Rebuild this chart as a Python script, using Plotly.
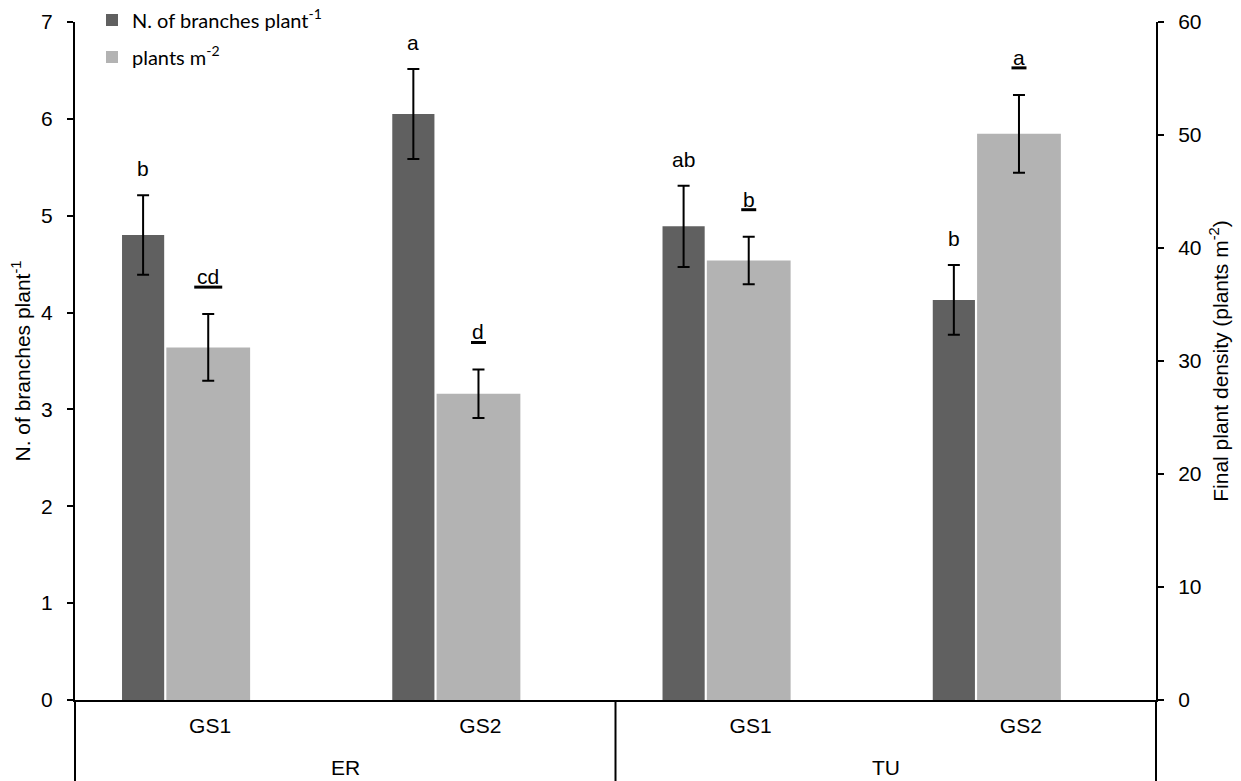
import plotly.graph_objects as go

# ---- data ----
sites = ["ER", "ER", "TU", "TU"]
seasons = ["GS1", "GS2", "GS1", "GS2"]
branches = [4.80, 6.05, 4.89, 4.13]
branches_err = [0.41, 0.465, 0.42, 0.36]
density = [31.2, 27.1, 38.9, 50.1]
density_err = [2.95, 2.15, 2.1, 3.45]
branches_letters = ["b", "a", "ab", "b"]
density_letters = ["cd", "d", "b", "a"]
left_ticks = [0, 1, 2, 3, 4, 5, 6, 7]
right_ticks = [0, 10, 20, 30, 40, 50, 60]

# ---- style / layout constants ----
W, H = 1241, 781
ML, MR, MT, MB = 75, 85, 22, 81
DARK, LIGHT = "#606060", "#b3b3b3"
ARIAL = "Liberation Sans, Arial, sans-serif"
FS = 21
D_OFF, D_W = -0.326, 0.156
L_OFF, L_W = -0.162, 0.31

xpos = list(range(len(seasons)))
plot_h = H - MT - MB

fig = go.Figure()
fig.add_trace(go.Bar(
    x=xpos, y=branches, name="N. of branches plant<sup>-1</sup>",
    offset=D_OFF, width=D_W, marker=dict(color=DARK, line=dict(width=0)),
    error_y=dict(type="data", array=branches_err, color="black", thickness=2, width=6),
    legend="legend", showlegend=True,
))
fig.add_trace(go.Bar(
    x=xpos, y=density, name="plants m<sup>-2</sup>", yaxis="y2",
    offset=L_OFF, width=L_W, marker=dict(color=LIGHT, line=dict(width=0)),
    error_y=dict(type="data", array=density_err, color="black", thickness=2, width=6),
    legend="legend2", showlegend=True,
))

annotations = []
shapes = []
for i in xpos:
    xc = i + D_OFF + D_W / 2
    annotations.append(dict(
        x=xc, y=branches[i] + branches_err[i], xref="x", yref="y",
        text=branches_letters[i], showarrow=False, yanchor="bottom", yshift=13,
        font=dict(family=ARIAL, size=FS, color="black")))
    xl = i + L_OFF + L_W / 2
    top = density[i] + density_err[i]
    annotations.append(dict(
        x=xl, y=top, xref="x", yref="y2",
        text=density_letters[i], showarrow=False, yanchor="bottom", yshift=24,
        font=dict(family=ARIAL, size=FS, color="black")))
    hw = 6.5 * len(density_letters[i]) + 1
    shapes.append(dict(
        type="line", xref="x", yref="y2", xsizemode="pixel", ysizemode="pixel",
        xanchor=xl, yanchor=top, x0=-hw, x1=hw, y0=27, y1=27,
        line=dict(color="black", width=3)))

# group labels
for grp, xc in (("ER", 0.5), ("TU", 2.5)):
    annotations.append(dict(
        x=xc, y=-67 / plot_h, xref="x", yref="paper", text=grp, showarrow=False,
        yanchor="middle", font=dict(family=ARIAL, size=FS, color="black")))

# vertical divider lines below the axis
for xp in (0, 0.5, 1):
    shapes.append(dict(
        type="line", xref="paper", yref="paper", x0=xp, x1=xp, y0=0, y1=-MB / plot_h,
        line=dict(color="black", width=2)))

axis_common = dict(
    showgrid=False, zeroline=False, showline=True, linecolor="black", linewidth=2,
    ticks="outside", ticklen=6, tickwidth=2, tickcolor="black",
    tickfont=dict(family=ARIAL, size=FS, color="black"), ticklabelstandoff=10,
)

legend_font = dict(family="Lato, sans-serif", size=20, color="black")
fig.update_layout(
    width=W, height=H,
    margin=dict(l=ML, r=MR, t=MT, b=MB, autoexpand=False),
    paper_bgcolor="white", plot_bgcolor="white",
    barmode="overlay",
    showlegend=True,
    xaxis=dict(
        range=[-0.5, 3.5], tickvals=xpos, ticktext=seasons, showgrid=False,
        zeroline=False, showline=True, linecolor="black", linewidth=2, ticks="",
        tickfont=dict(family=ARIAL, size=FS, color="black"), ticklabelstandoff=6,
        fixedrange=True,
    ),
    yaxis=dict(
        range=[0, 7], tickvals=left_ticks,
        title=dict(text="N. of branches plant<sup>-1</sup>", standoff=5,
                   font=dict(family=ARIAL, size=FS, color="black")),
        **axis_common,
    ),
    yaxis2=dict(
        range=[0, 60], tickvals=right_ticks, overlaying="y", side="right",
        title=dict(text="Final plant density (plants m<sup>-2</sup>)", standoff=13,
                   font=dict(family=ARIAL, size=FS, color="black")),
        **axis_common,
    ),
    legend=dict(x=(92 - ML) / (W - ML - MR), y=(H - MB - 20) / plot_h,
                xanchor="left", yanchor="middle", bgcolor="rgba(0,0,0,0)",
                font=legend_font, visible=True),
    legend2=dict(x=(92 - ML) / (W - ML - MR), y=(H - MB - 57) / plot_h,
                 xanchor="left", yanchor="middle", bgcolor="rgba(0,0,0,0)",
                 font=legend_font, visible=True),
    annotations=annotations,
    shapes=shapes,
)

fig.write_html("out.html", config={"displayModeBar": False})

# remove the browser's default body margin so the figure sits at the page origin
with open("out.html", "r", encoding="utf-8") as f:
    html = f.read()
html = html.replace("<head>", "<head><style>html,body{margin:0;padding:0;overflow:hidden;}</style>", 1)
with open("out.html", "w", encoding="utf-8") as f:
    f.write(html)
